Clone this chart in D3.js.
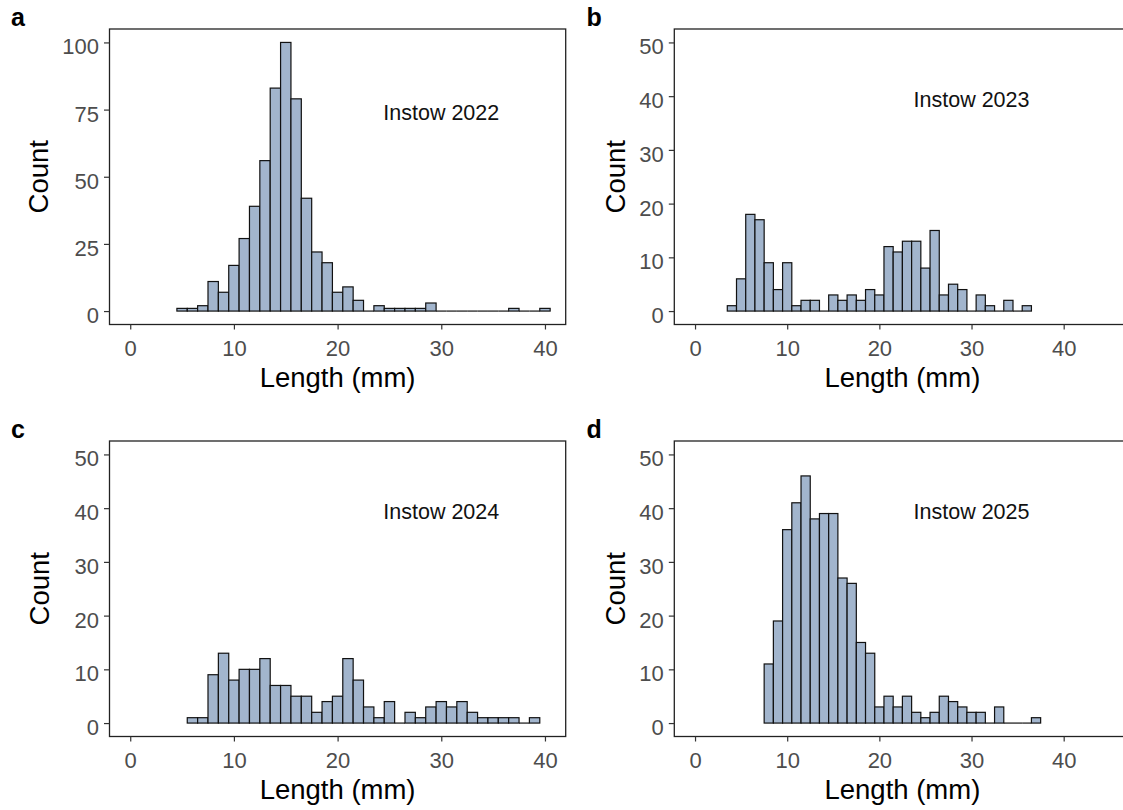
<!DOCTYPE html>
<html>
<head>
<meta charset="utf-8">
<script src="https://cdn.jsdelivr.net/npm/d3@7"></script>
<style>
  body { margin: 0; background: #fff; }
  text { font-family: "Liberation Sans", Arial, sans-serif; }
</style>
</head>
<body>
<div id="viz"></div>
<script>
// counts per 1 mm bin, bins centred on whole mm starting at firstBin
var countsA = [1, 1, 2, 11, 7, 17, 27, 39, 56, 83, 100, 79, 42, 22, 18, 7, 9, 4, 0, 2, 1, 1, 1, 1, 3, 0, 0, 0, 0, 0, 0, 0, 1, 0, 0, 1];
var countsB = [1, 6, 18, 17, 9, 4, 9, 1, 2, 2, 0, 3, 2, 3, 2, 4, 3, 12, 11, 13, 13, 8, 15, 3, 5, 4, 0, 3, 1, 0, 2, 0, 1];
var countsC = [1, 1, 9, 13, 8, 10, 10, 12, 7, 7, 5, 5, 2, 4, 5, 12, 8, 3, 1, 4, 0, 2, 1, 3, 4, 3, 4, 2, 1, 1, 1, 1, 0, 1];
var countsD = [11, 19, 36, 41, 46, 38, 39, 39, 27, 26, 15, 13, 3, 5, 3, 5, 2, 1, 2, 5, 4, 3, 2, 2, 0, 3, 0, 0, 0, 1];
var firstBin = [5, 4, 6, 8];
var tags = ['a', 'b', 'c', 'd'];
var labels = ['Instow 2022', 'Instow 2023', 'Instow 2024', 'Instow 2025'];
var xTicks = [0, 10, 20, 30, 40];
var yTicksBig = [0, 25, 50, 75, 100];
var yTicksSmall = [0, 10, 20, 30, 40, 50];

var W = 1123, H = 810;
var pw = 456.2, ph = 295.5;

var svg = d3.select('#viz').append('svg')
    .attr('width', W)
    .attr('height', H);

var panels = [
    {counts: countsA, left: 109.5, top: 29, xDom: [-2, 42], yDom: [-5, 105], yTicks: yTicksBig, labY: 75, titleX: 48},
    {counts: countsB, left: 674.3, top: 29, xDom: [-2.25, 47.25], yDom: [-2.5, 52.5], yTicks: yTicksSmall, labY: 40, titleX: 625},
    {counts: countsC, left: 109.5, top: 441, xDom: [-2, 42], yDom: [-2.5, 52.5], yTicks: yTicksSmall, labY: 40, titleX: 49},
    {counts: countsD, left: 674.3, top: 441, xDom: [-2.25, 47.25], yDom: [-2.5, 52.5], yTicks: yTicksSmall, labY: 40, titleX: 625}
];

panels.forEach(function (p, i) {
    var x = d3.scaleLinear().domain(p.xDom).range([p.left, p.left + pw]);
    var y = d3.scaleLinear().domain(p.yDom).range([p.top + ph, p.top]);

    var bins = p.counts.map(function (c, j) { return {mid: firstBin[i] + j, n: c}; });

    var g = svg.append('g');

    // empty bins still get an outline along zero, like ggplot
    g.selectAll('line.zero')
        .data(bins.filter(function (d) { return d.n === 0; }))
        .enter()
        .append('line')
        .attr('class', 'zero')
        .attr('x1', function (d) { return x(d.mid - 0.5); })
        .attr('x2', function (d) { return x(d.mid + 0.5); })
        .attr('y1', y(0))
        .attr('y2', y(0))
        .attr('stroke', '#111')
        .attr('stroke-width', 1.2);

    g.selectAll('rect.bar')
        .data(bins.filter(function (d) { return d.n > 0; }))
        .enter()
        .append('rect')
        .attr('class', 'bar')
        .attr('x', function (d) { return x(d.mid - 0.5); })
        .attr('width', function (d) { return x(d.mid + 0.5) - x(d.mid - 0.5); })
        .attr('y', function (d) { return y(d.n); })
        .attr('height', function (d) { return y(0) - y(d.n); })
        .attr('fill', '#A2B5CD')
        .attr('stroke', '#111')
        .attr('stroke-width', 1.2);

    // frame
    g.append('rect')
        .attr('x', p.left)
        .attr('y', p.top)
        .attr('width', pw)
        .attr('height', ph)
        .attr('fill', 'none')
        .attr('stroke', '#222')
        .attr('stroke-width', 1.3);

    var xAxis = g.append('g')
        .attr('transform', 'translate(0,' + (p.top + ph) + ')')
        .call(d3.axisBottom(x).tickValues(xTicks).tickSize(5).tickPadding(10.4));
    var yAxis = g.append('g')
        .attr('transform', 'translate(' + p.left + ',0)')
        .call(d3.axisLeft(y).tickValues(p.yTicks).tickSize(5.5).tickPadding(5));

    [xAxis, yAxis].forEach(function (ax) {
        ax.select('.domain').remove();
        ax.selectAll('line').attr('stroke', '#333').attr('stroke-width', 1.2);
        ax.selectAll('text')
            .attr('font-family', '"Liberation Sans", Arial, sans-serif')
            .attr('font-size', 22)
            .attr('fill', '#4D4D4D');
    });
    yAxis.selectAll('text').attr('dy', '0.52em');

    g.append('text')
        .attr('x', p.left + pw / 2)
        .attr('y', p.top + ph + 62)
        .attr('text-anchor', 'middle')
        .attr('font-size', 27.5)
        .attr('fill', '#000')
        .text('Length (mm)');

    g.append('text')
        .attr('transform', 'translate(' + p.titleX + ',' + (p.top + ph / 2) + ') rotate(-90)')
        .attr('text-anchor', 'middle')
        .attr('font-size', 27.5)
        .attr('fill', '#000')
        .text('Count');

    g.append('text')
        .attr('x', x(30))
        .attr('y', y(p.labY) + 10.5)
        .attr('text-anchor', 'middle')
        .attr('font-size', 21.5)
        .attr('fill', '#111')
        .text(labels[i]);

    g.append('text')
        .attr('x', i % 2 === 0 ? 11 : 586.5)
        .attr('y', p.top - 3)
        .attr('font-size', 25)
        .attr('font-weight', 'bold')
        .attr('fill', '#000')
        .text(tags[i]);
});
</script>
</body>
</html>
